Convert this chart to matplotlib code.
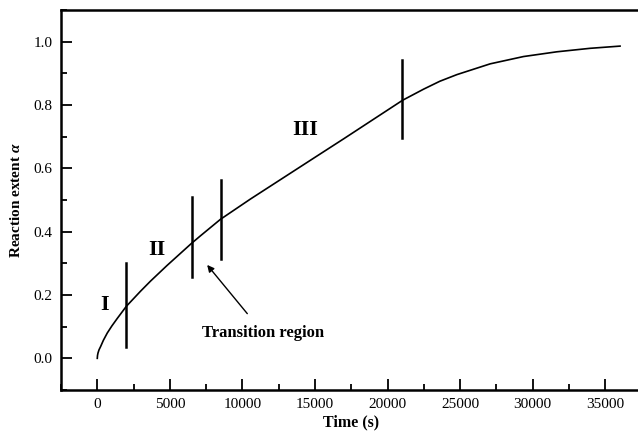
import numpy as np
import matplotlib
matplotlib.use('Agg')
from matplotlib import pyplot as plt
from matplotlib.ticker import MultipleLocator

plt.rcParams['font.family'] = ['Liberation Serif', 'DejaVu Serif']
plt.rcParams['mathtext.fontset'] = 'custom'
plt.rcParams['mathtext.it'] = 'Liberation Serif:italic:bold'

# Reaction extent vs time
time_s = [0, 15, 50, 120, 227, 420, 688, 1000, 1376, 1996, 2980, 3670, 4800,
          6490, 7110, 8486, 10550, 12845, 15140, 17000, 19000, 21035, 22480,
          23600, 24776, 27070, 29360, 31660, 33950, 36015]
alpha = [0.0, 0.009, 0.017, 0.027, 0.037, 0.057, 0.080, 0.102, 0.126, 0.164,
         0.212, 0.244, 0.293, 0.363, 0.387, 0.439, 0.503, 0.571, 0.639, 0.694,
         0.754, 0.815, 0.850, 0.875, 0.896, 0.930, 0.953, 0.968, 0.979, 0.986]

# stage boundaries: (time, alpha_low, alpha_high)
bound_t = [2000, 6500, 8500, 21000]
bound_lo = [0.037, 0.258, 0.313, 0.695]
bound_hi = [0.300, 0.510, 0.563, 0.942]

stage_labels = ['I', 'II', 'III']
stage_x = [520, 4130, 14340]
stage_y = [0.168, 0.342, 0.72]

fig = plt.figure(figsize=(6.38, 4.33), dpi=100)
ax = fig.add_axes([61 / 638, 43 / 433, 580.6 / 638, 380 / 433])

ax.plot(time_s, alpha, color='k', lw=1.2)

for t, lo, hi in zip(bound_t, bound_lo, bound_hi):
    ax.plot([t, t], [lo, hi], color='k', lw=1.8)

for lab, x, y in zip(stage_labels, stage_x, stage_y):
    ax.text(x, y, lab, fontsize=16, fontweight='bold', ha='center', va='center')

ax.annotate('Transition region', xy=(7570, 0.295), xytext=(7226, 0.08),
            fontsize=12, fontweight='bold', ha='left', va='center',
            arrowprops=dict(arrowstyle='-|>', color='k', lw=1.0,
                            shrinkA=8, shrinkB=0, mutation_scale=10))

ax.set_xlim(-2500, 37500)
ax.set_ylim(-0.1, 1.1)
ax.xaxis.set_minor_locator(MultipleLocator(2500))
ax.yaxis.set_minor_locator(MultipleLocator(0.1))
ax.set_xticks(np.arange(0, 35001, 5000))
ax.set_yticks(np.arange(0, 1.01, 0.2))
ax.yaxis.set_major_formatter(plt.FormatStrFormatter('%.1f'))

ax.tick_params(which='major', direction='in', length=8, width=1.3, labelsize=11, pad=6)
ax.tick_params(which='minor', direction='in', length=4.5, width=1.3)
ax.tick_params(top=False, right=False, which='both')
for sp in ax.spines.values():
    sp.set_linewidth(1.8)

ax.set_xlabel('Time (s)', fontsize=11.5, fontweight='bold', labelpad=2)
ax.set_ylabel(r'Reaction extent $\mathit{\alpha}$', fontsize=11, fontweight='bold', labelpad=8)

fig.savefig('out.png', dpi=100)
